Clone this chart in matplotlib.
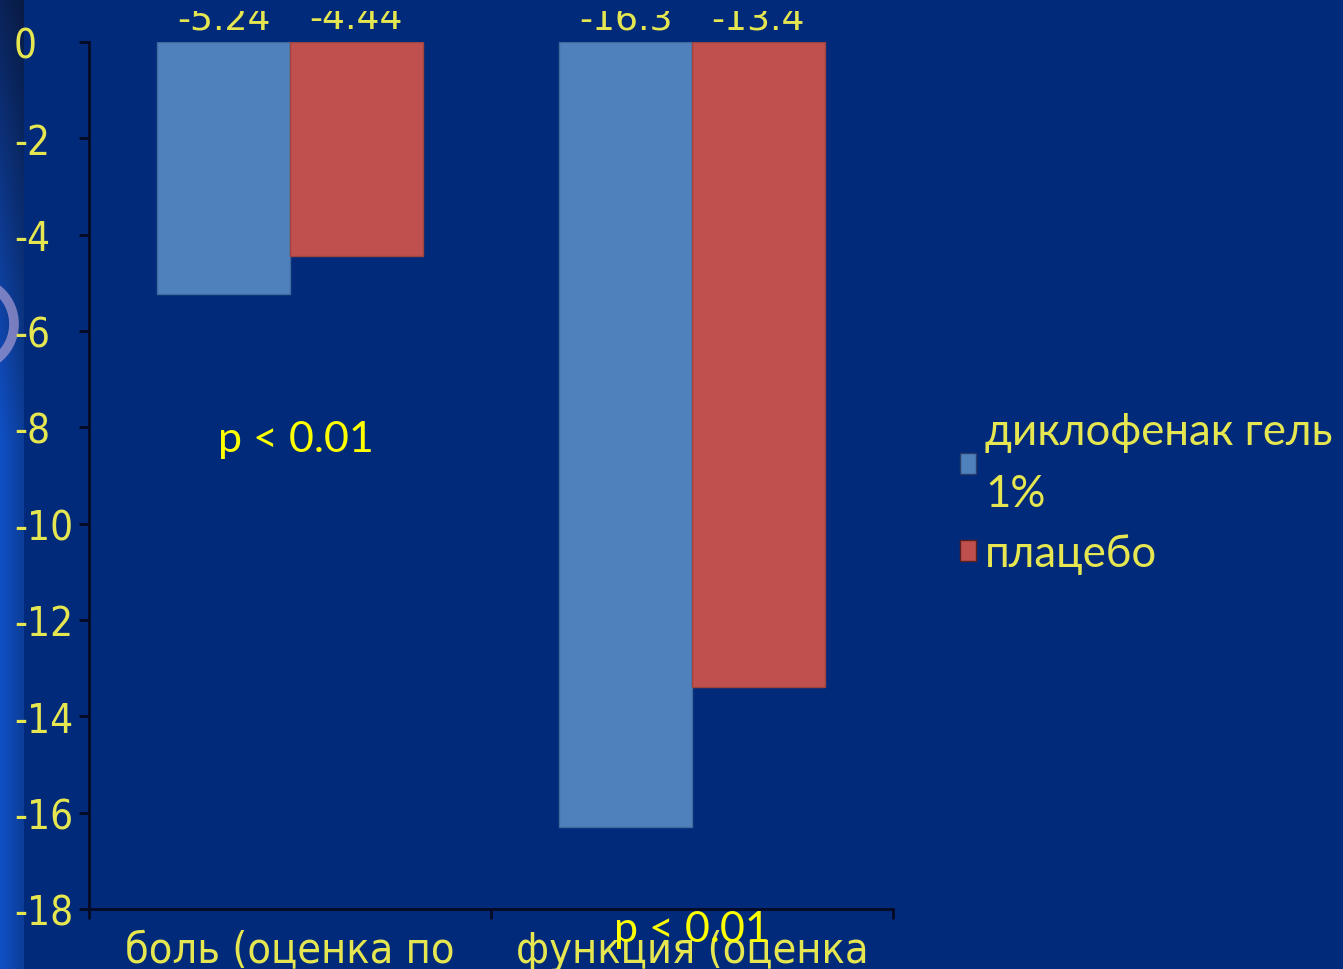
import numpy as np
import matplotlib
matplotlib.use("Agg")
import matplotlib.pyplot as plt
from matplotlib.patches import Patch, Circle
from matplotlib.transforms import Bbox, TransformedBbox

# ---- data -------------------------------------------------------------
categories = ["боль (оценка по", "функция (оценка"]
series_names = ["диклофенак гель\n1%", "плацебо"]
diclofenac = [-5.24, -16.3]
placebo = [-4.44, -13.4]
y_ticks = [0, -2, -4, -6, -8, -10, -12, -14, -16, -18]
p_labels = ["p < 0.01", "p < 0.01"]

# ---- style -------------------------------------------------------------
BG = "#012a7a"
BLUE = "#4f81bd"
RED = "#c0504d"
TXT = "#e6e650"
PYEL = "#ffff00"
NARROW = dict(family=["DejaVu Sans"], stretch="condensed")
SANS = ["Lato", "Noto Sans", "DejaVu Sans"]

W, H = 1343, 970
fig = plt.figure(figsize=(W / 100, H / 100), dpi=100, facecolor=BG)

# background decoration: bright strip at the left edge and a ring
bg = fig.add_axes([0, 0, 1, 1], zorder=-5)
bg.set_xlim(0, W)
bg.set_ylim(H, 0)
bg.axis("off")
yy = np.linspace(0, 1, 200)[:, None]
xx = np.linspace(0, 1, 30)[None, :]
top = np.array([0.04, 0.13, 0.33])
mid = np.array([0.06, 0.30, 0.74])
t = np.clip(yy * 2.2, 0, 1)[..., None]
strip = top * (1 - t) + mid * t
strip = strip * (1.05 - 0.25 * xx[..., None])
strip = np.clip(strip, 0, 1)
bg.imshow(strip, extent=(0, 24, H, 0), aspect="auto", interpolation="bilinear")
bg.add_patch(Circle((-30, 325), 44, fill=False, lw=7, ec="#a79bd3", alpha=0.7))

# ---- main axes ----------------------------------------------------------
ax = fig.add_axes([89 / W, 60 / H, (893 - 89) / W, (910 - 43) / H])
ax.set_facecolor("none")
ax.set_xlim(0, 2)
ax.set_ylim(-18, 0)

centers = np.arange(len(categories)) + 0.5
bw = 0.33
ax.bar(centers - bw / 2, diclofenac, bw, color=BLUE, edgecolor="#3f6a9e", lw=1)
ax.bar(centers + bw / 2, placebo, bw, color=RED, edgecolor="#9e4440", lw=1)

AXC = "#060a24"
for spine in ("top", "right"):
    ax.spines[spine].set_visible(False)
for spine in ("left", "bottom"):
    ax.spines[spine].set_color(AXC)
    ax.spines[spine].set_linewidth(2)

ax.set_yticks(y_ticks)
ax.set_yticklabels([str(v) for v in y_ticks], fontsize=29, color=TXT, **NARROW)
ax.tick_params(axis="y", direction="out", length=7, width=2, color=AXC, pad=47)
for lab in ax.get_yticklabels():
    lab.set_ha("left")
ax.set_xticks([0, 1, 2])
ax.set_xticklabels([])
ax.tick_params(axis="x", direction="out", length=7, width=2, color=AXC)

# value labels above the bars, trimmed by the plot frame
clip = TransformedBbox(Bbox([[0, 0], [1, (H - 12) / H]]), fig.transFigure)
for xs, vals in ((centers - bw / 2, diclofenac), (centers + bw / 2, placebo)):
    for x, v in zip(xs, vals):
        a = ax.annotate(str(v), xy=(x, 0), xytext=(0, 10), textcoords="offset points",
                        ha="center", va="baseline", fontsize=26, color=TXT,
                        family=["DejaVu Sans"], annotation_clip=False)
        a.set_clip_on(True)
        a.set_clip_box(clip)

# category labels below the axis
for x, c in zip(centers, categories):
    ax.annotate(c, xy=(x, -18), xytext=(0, -38), textcoords="offset points",
                ha="center", va="baseline", fontsize=31, color=TXT,
                annotation_clip=False, **NARROW)

# significance marks
ax.text(0.515, -8.49, p_labels[0], ha="center", va="baseline", fontsize=31,
        color=PYEL, family=SANS)
ax.text(1.5, -18.66, p_labels[1], ha="center", va="baseline", fontsize=31,
        color=PYEL, family=SANS, clip_on=False)

# legend
handles = [Patch(facecolor=BLUE, edgecolor="#2a3f6a"), Patch(facecolor=RED, edgecolor="#5a2020")]
leg = fig.legend(handles, series_names, loc="upper left",
                 bbox_to_anchor=(960 / W, 1 - 412 / H), frameon=False,
                 prop={"family": SANS, "size": 31.5}, labelcolor=TXT,
                 handlelength=0.37, handleheight=0.37, handletextpad=0.2,
                 labelspacing=0.42, borderpad=0, borderaxespad=0)
for txt in leg.get_texts():
    txt.set_linespacing(1.65)

fig.savefig("out.png", dpi=100, facecolor=BG)
